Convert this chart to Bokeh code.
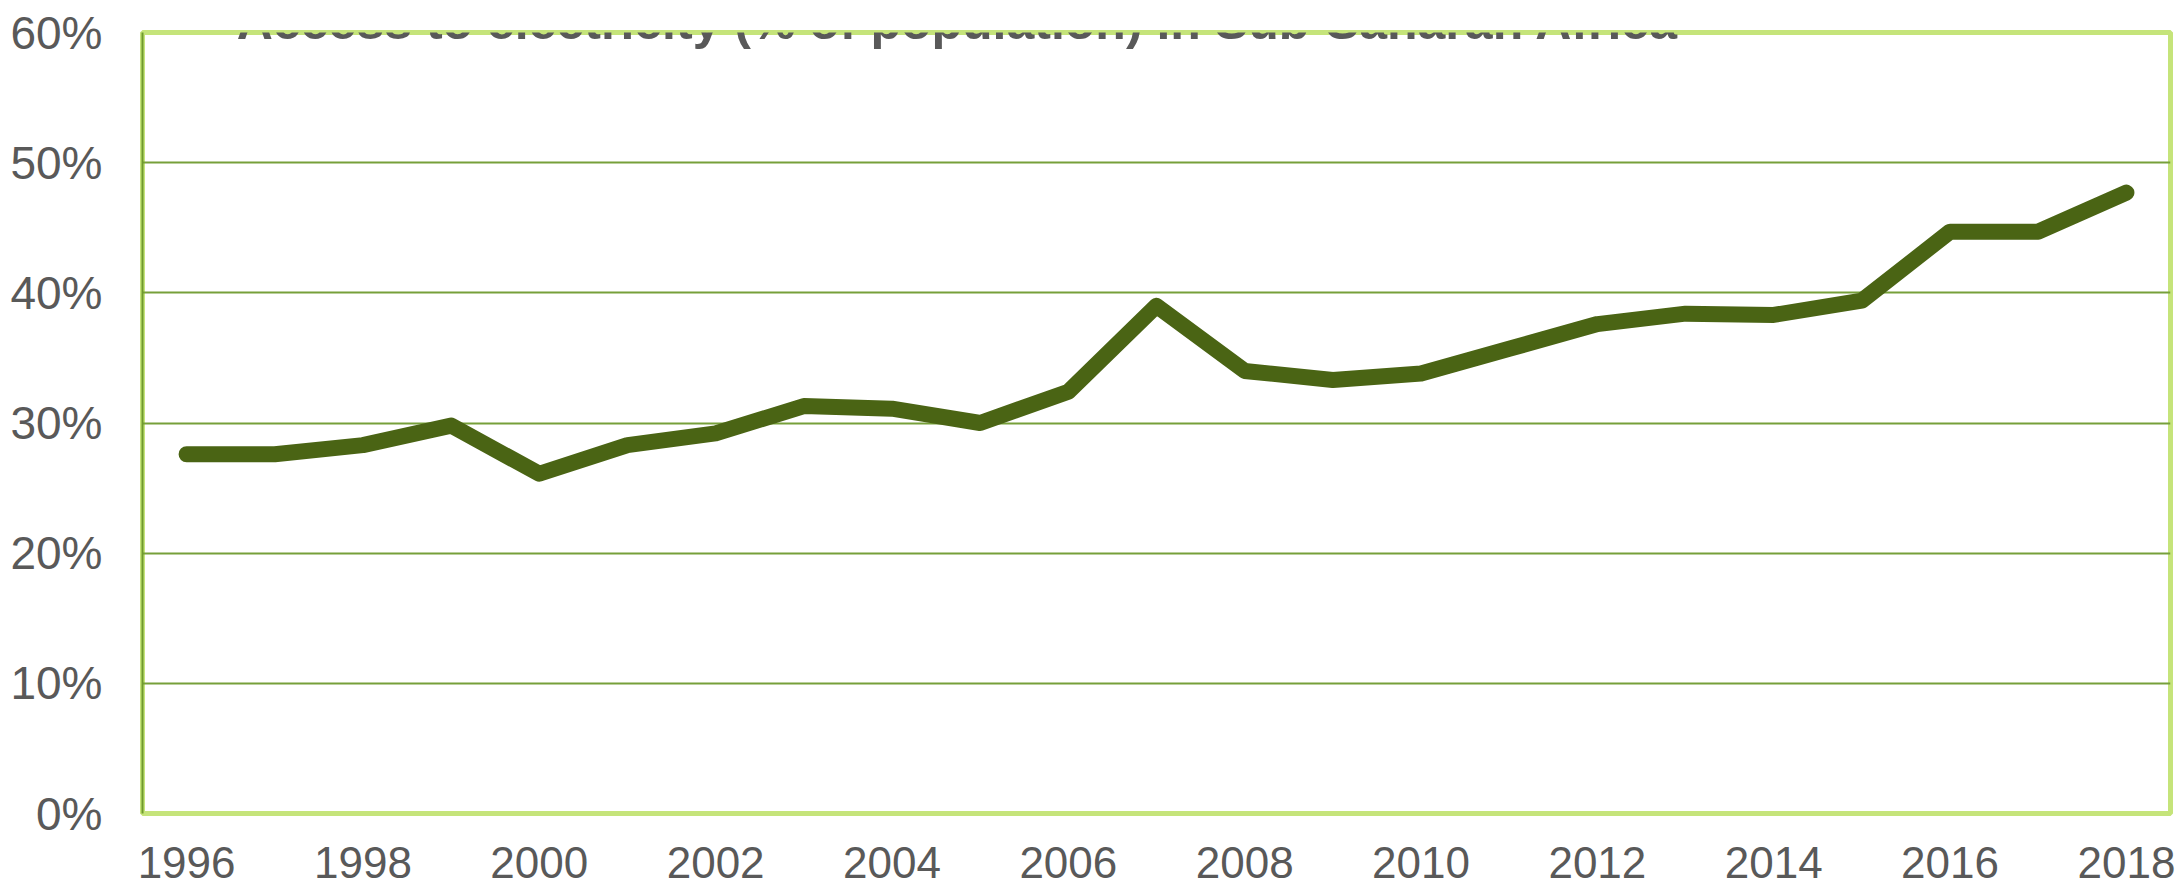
from bokeh.plotting import figure
from bokeh.models import FixedTicker, PrintfTickFormatter, Label, Range1d
from bokeh.embed import file_html
from bokeh.resources import INLINE

# ---- data ----
years = [1996, 1997, 1998, 1999, 2000, 2001, 2002, 2003, 2004, 2005, 2006, 2007,
         2008, 2009, 2010, 2011, 2012, 2013, 2014, 2015, 2016, 2017, 2018]
access_pct = [27.6, 27.6, 28.3, 29.8, 26.1, 28.3, 29.2, 31.3, 31.1, 30.0, 32.4, 39.0,
              34.0, 33.3, 33.8, 35.7, 37.6, 38.4, 38.3, 39.4, 44.7, 44.7, 47.7]
x_ticks = [1996, 1998, 2000, 2002, 2004, 2006, 2008, 2010, 2012, 2014, 2016, 2018]
y_ticks = [0, 10, 20, 30, 40, 50, 60]
title_text = "Access to electricity (% of population) in Sub-Saharan Africa"

FONT = "'Liberation Sans', Arial, sans-serif"
TXT = "#595959"
H = 892

p = figure(frame_width=2028, frame_height=781,
           min_border_left=142, min_border_right=8, min_border_top=32,
           min_border_bottom=H - 32 - 781,
           x_range=Range1d(1995.5, 2018.5), y_range=Range1d(0, 60),
           output_backend="svg", toolbar_location=None)

p.line(years, access_pct, line_color="#4a6414", line_width=16,
       line_cap="round", line_join="round")

p.outline_line_color = "#c5e47a"
p.outline_line_width = 5

p.xgrid.grid_line_color = None
p.ygrid.grid_line_color = "#77a03a"
p.ygrid.grid_line_width = 2

p.yaxis.ticker = FixedTicker(ticks=y_ticks)
p.yaxis.formatter = PrintfTickFormatter(format="%d%%")
p.xaxis.ticker = FixedTicker(ticks=x_ticks)

for ax in (p.xaxis[0], p.yaxis[0]):
    ax.major_tick_line_color = None
    ax.minor_tick_line_color = None
    ax.major_tick_out = 0
    ax.major_tick_in = 0
    ax.minor_tick_out = 0
    ax.major_label_text_font = FONT
    ax.major_label_text_color = TXT
    ax.major_label_text_font_size = "46px"
p.xaxis.major_label_text_font_size = "44px"
p.xaxis.axis_line_color = None
p.yaxis.axis_line_color = "#6f9a2c"
p.yaxis.axis_line_width = 2
p.yaxis.major_label_standoff = 40
p.xaxis.major_label_standoff = 33

# title sits partly above the top edge, as in the source image
title = Label(x=1996.57, y=60.8, x_units="data", y_units="data",
              text=title_text, text_font=FONT, text_font_size="50px",
              text_font_style="bold", text_color=TXT,
              text_align="left", text_baseline="alphabetic")
p.add_layout(title)

open("out.html", "w").write(file_html(p, INLINE))
